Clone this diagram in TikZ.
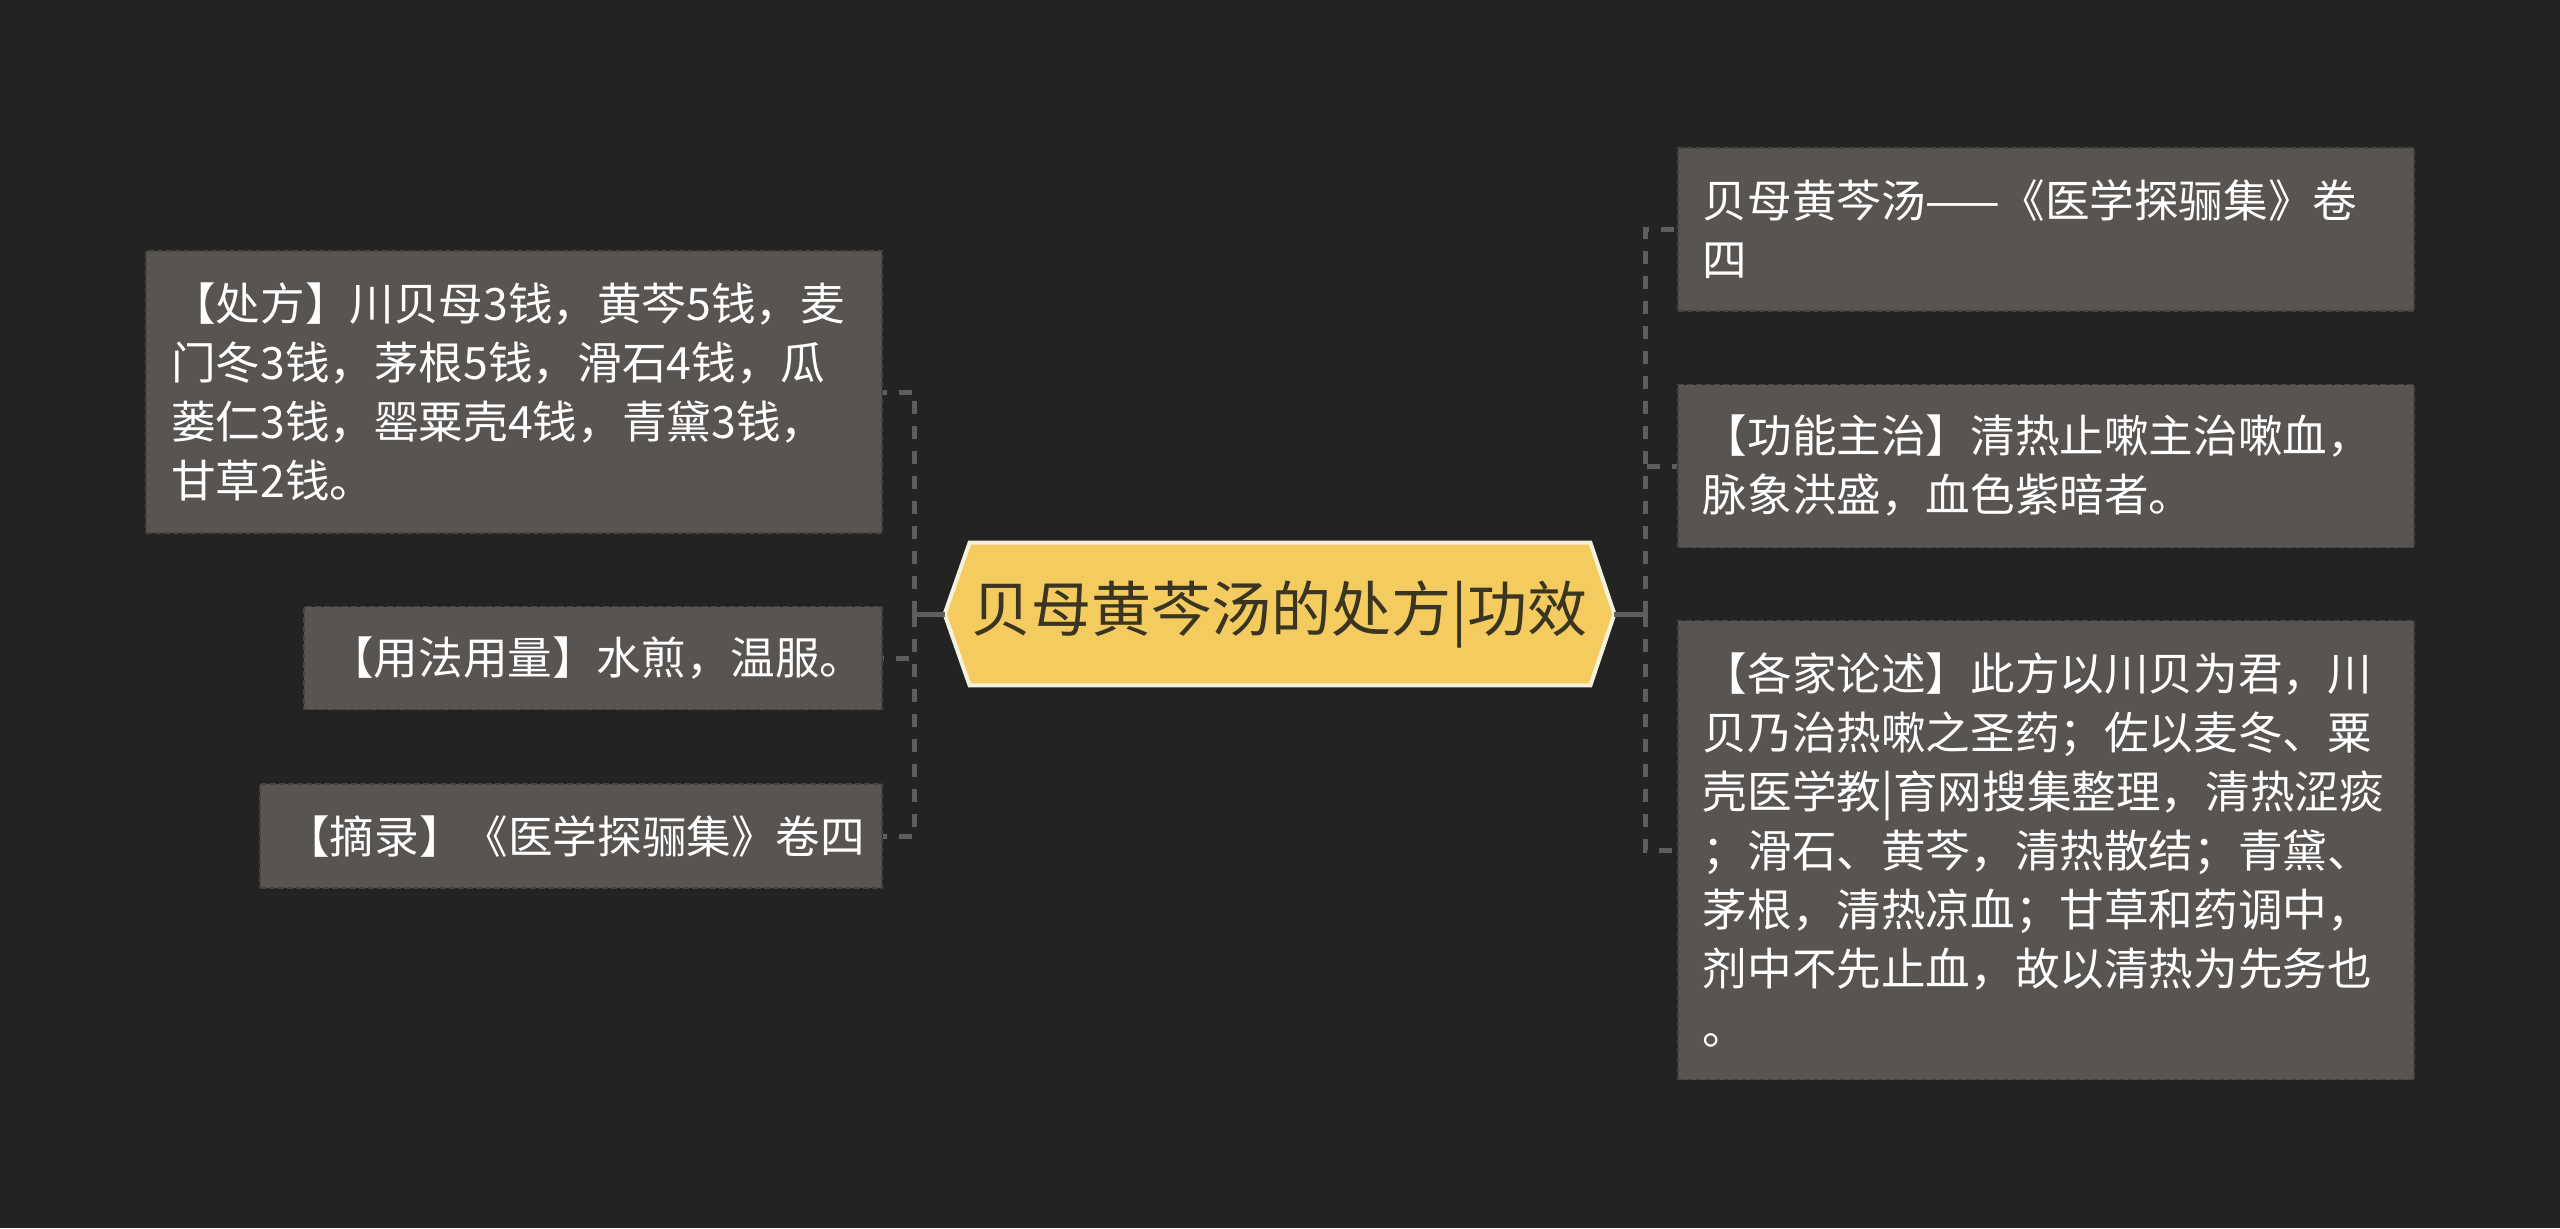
\documentclass[tikz,border=0pt]{standalone}
\usepackage{fontspec}
\newfontfamily\cjk{Noto Sans CJK SC}
\usetikzlibrary{backgrounds}
\definecolor{bg}{HTML}{232323}
\definecolor{boxfill}{HTML}{575452}
\definecolor{boxline}{HTML}{45433F}
\definecolor{connc}{HTML}{5E5E5E}
\definecolor{hexfill}{HTML}{F4CB5F}
\definecolor{hexline}{HTML}{F4F1DC}
\definecolor{hextext}{HTML}{3A3422}
\begin{document}
\begin{tikzpicture}[x=0.5pt,y=-0.5pt,
  leaf/.style={fill=boxfill, draw=boxline, dash pattern=on 3pt off 1.5pt, line width=0.8pt,
    text=white, font=\cjk\fontsize{22.3}{29.5}\selectfont, align=left,
    inner xsep=12.5pt, inner ysep=6pt},
  link/.style={draw=connc, line width=2.5pt, dash pattern=on 6.5pt off 6pt},
  stem/.style={draw=connc, line width=2.5pt},
  hub/.style={minimum width=334.5pt, minimum height=71pt, inner sep=0pt,
    font=\cjk\fontsize{30}{34}\selectfont, text=hextext}]
\useasboundingbox (0,0) rectangle (2560,1228);

\node[hub] (c) at (1279.5,614) {贝母黄芩汤的处方|功效};

\begin{scope}[on background layer]
\fill[bg] (0,0) rectangle (2560,1228);
\filldraw[fill=hexfill, draw=hexline, line width=2pt, line join=miter]
  (c.west) -- ([xshift=12.5pt]c.north west) -- ([xshift=-12pt]c.north east) -- (c.east)
  -- ([xshift=-12pt]c.south east) -- ([xshift=12.5pt]c.south west) -- cycle;
\end{scope}

% left leaves
\node[leaf, anchor=east, text width=343pt, minimum height=141pt] (l1) at (883,392)
 {【处方】川贝母3钱，黄芩5钱，麦\\门冬3钱，茅根5钱，滑石4钱，瓜\\蒌仁3钱，罂粟壳4钱，青黛3钱，\\甘草2钱。};
\node[leaf, anchor=east, text width=264pt, minimum height=51.5pt] (l2) at (883,658)
 {【用法用量】水煎，温服。};
\node[leaf, anchor=east, text width=286pt, minimum height=52pt] (l3) at (883,836)
 {【摘录】《医学探骊集》卷四};

% right leaves
\node[leaf, anchor=west, text width=343pt, minimum height=81.5pt] (r1) at (1677,229.5)
 {贝母黄芩汤——《医学探骊集》卷\\四};
\node[leaf, anchor=west, text width=343pt, minimum height=81.5pt] (r2) at (1677,466)
 {【功能主治】清热止嗽主治嗽血，\\脉象洪盛，血色紫暗者。};
\node[leaf, anchor=west, text width=343pt, minimum height=229.5pt] (r3) at (1677,850)
 {【各家论述】此方以川贝为君，川\\贝乃治热嗽之圣药；佐以麦冬、粟\\壳医学教|育网搜集整理，清热涩痰\\；滑石、黄芩，清热散结；青黛、\\茅根，清热凉血；甘草和药调中，\\剂中不先止血，故以清热为先务也\\。};

% connectors
\draw[stem] (c.west) -- ++(-30,0) coordinate (jl);
\draw[link] (jl) |- (l1.east);
\draw[link] (jl) |- (l2.east);
\draw[link] (jl) |- (l3.east);
\draw[stem] (c.east) -- ++(31,0) coordinate (jr);
\draw[link] (jr) |- (r1.west);
\draw[link] (jr) |- (r2.west);
\draw[link] (jr) |- (r3.west);
\end{tikzpicture}
\end{document}
